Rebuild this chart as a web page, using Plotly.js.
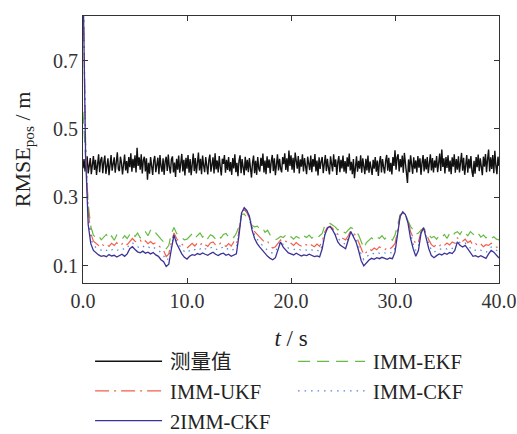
<!DOCTYPE html>
<html>
<head>
<meta charset="utf-8">
<script src="https://cdn.plot.ly/plotly-3.0.1.min.js"></script>
<style>
html,body{margin:0;padding:0;background:#fff;}
#chart{width:517px;height:434px;}
</style>
</head>
<body>
<div id="chart"></div>
<script>
// Series names
const seriesNames = ['测量值', 'IMM-EKF', 'IMM-UKF', 'IMM-CKF', '2IMM-CKF'];

// Measurement RMSE (sampled every 0.1 s, t = 0 ... 40)
const measured = [
.385,.412,.376,.404,.420,.370,.398,.415,.368,.407,
.421,.380,.410,.366,.401,.426,.374,.409,.418,.371,
.403,.422,.369,.396,.414,.365,.405,.424,.378,.399,
.417,.372,.408,.432,.383,.377,.419,.401,.367,.411,
.425,.379,.406,.371,.418,.388,.429,.375,.413,.386,
.423,.373,.445,.392,.417,.381,.426,.370,.409,.419,
.376,.414,.352,.401,.369,.418,.386,.366,.407,.421,
.374,.403,.416,.368,.424,.391,.375,.414,.366,.405,
.419,.377,.425,.389,.370,.411,.420,.373,.402,.360,
.413,.381,.422,.372,.406,.427,.376,.410,.364,.416,
.384,.424,.372,.412,.365,.404,.428,.377,.415,.370,
.406,.431,.379,.413,.368,.422,.393,.374,.418,.383,
.367,.409,.425,.375,.404,.417,.370,.429,.382,.408,
.373,.421,.389,.364,.413,.398,.424,.372,.410,.380,
.418,.376,.403,.366,.415,.385,.426,.374,.401,.362,
.407,.423,.371,.412,.388,.365,.419,.379,.410,.374,
.415,.380,.358,.401,.422,.371,.407,.366,.418,.384,
.376,.416,.392,.428,.373,.408,.368,.420,.386,.411,
.371,.405,.424,.377,.414,.365,.401,.426,.379,.413,
.384,.373,.418,.397,.429,.380,.414,.375,.437,.392,
.423,.381,.416,.372,.431,.395,.384,.421,.370,.411,
.390,.426,.376,.415,.387,.368,.419,.395,.380,.422,
.374,.412,.390,.427,.376,.408,.364,.417,.383,.405,
.418,.371,.402,.424,.377,.413,.386,.367,.420,.394,
.376,.426,.389,.411,.366,.403,.421,.374,.410,.385,
.422,.375,.406,.370,.417,.390,.428,.379,.404,.368,
.412,.356,.389,.420,.375,.407,.384,.423,.372,.414,
.391,.368,.413,.379,.422,.372,.405,.388,.366,.410,
.384,.418,.375,.408,.363,.402,.421,.373,.412,.389,
.370,.407,.424,.378,.416,.375,.401,.367,.418,.392,
.438,.381,.417,.426,.376,.412,.388,.422,.372,.430,
.392,.380,.342,.411,.374,.423,.389,.369,.417,.384,
.408,.373,.421,.387,.414,.366,.401,.424,.376,.413,
.382,.418,.371,.404,.426,.379,.415,.373,.408,.387,
.421,.374,.405,.428,.377,.440,.389,.414,.370,.418,
.386,.423,.375,.408,.368,.417,.390,.426,.372,.412,
.381,.420,.373,.405,.430,.378,.416,.366,.401,.424,
.372,.413,.385,.421,.376,.360,.407,.369,.418,.388,
.425,.377,.414,.384,.365,.419,.390,.427,.374,.411,
.440,.376,.417,.383,.424,.371,.436,.392,.368,.419,
.392
];

// Filter RMSE (sampled every 0.25 s, t = 0 ... 40)
const immEKF = [
.550,.420,.280,.215, .190,.182,.188,.176, .185,.192,.178,.187, .175,.190,.183,.178,
.188,.180,.192,.198, .186,.196,.182,.193, .200,.188,.205,.192, .196,.186,.178,.170,
.150,.160,.195,.212, .195,.188,.182,.176, .178,.186,.194,.181, .190,.196,.184,.193,
.180,.191,.187,.178, .188,.181,.192,.195, .184,.190,.183,.196, .215,.250,.252,.240,
.228,.218,.214,.216, .208,.212,.198,.204, .190,.182,.176,.180, .186,.183,.190,.180,
.185,.178,.186,.182, .176,.187,.183,.190, .181,.186,.180,.188, .195,.218,.225,.224,
.218,.214,.205,.210, .200,.196,.205,.212, .208,.202,.190,.172, .152,.168,.176,.182,
.175,.185,.180,.188, .178,.186,.182,.175, .190,.220,.250,.254, .246,.232,.215,.205,
.192,.196,.205,.210, .200,.190,.182,.186, .178,.189,.183,.192, .180,.195,.187,.196,
.200,.192,.205,.196, .188,.200,.192,.186, .195,.184,.190,.182, .188,.180,.185,.178,
.176
];
const immUKF = [
.950,.460,.260,.195, .172,.165,.160,.167, .158,.163,.157,.166, .160,.168,.159,.164,
.170,.162,.172,.180, .172,.168,.175,.166, .173,.165,.171,.164, .168,.160,.152,.145,
.127,.135,.170,.196, .180,.170,.164,.156, .152,.160,.166,.158, .167,.160,.169,.162,
.157,.167,.170,.161, .158,.168,.163,.157, .165,.158,.170,.162, .200,.258,.264,.256,
.240,.215,.200,.192, .183,.176,.168,.172, .158,.152,.156,.166, .176,.168,.172,.163,
.166,.160,.168,.162, .158,.165,.161,.167, .160,.156,.164,.157, .172,.200,.212,.216,
.210,.200,.192,.185, .180,.176,.188,.203, .196,.188,.170,.148, .132,.140,.150,.145,
.152,.147,.156,.150, .146,.154,.149,.156, .165,.203,.247,.256, .250,.233,.200,.182,
.163,.170,.200,.212, .192,.176,.162,.156, .163,.157,.166,.160, .167,.161,.170,.166,
.182,.176,.172,.178, .168,.173,.160,.165, .158,.164,.156,.162, .160,.166,.163,.155,
.154
];
const immCKF = [
.950,.440,.240,.180, .160,.153,.148,.146, .150,.145,.151,.147, .149,.144,.150,.152,
.147,.153,.163,.168, .160,.156,.152,.158, .153,.157,.151,.155, .149,.146,.138,.130,
.116,.122,.160,.192, .172,.160,.150,.142, .138,.145,.150,.147, .153,.149,.155,.150,
.147,.152,.156,.150, .146,.152,.155,.148, .151,.145,.149,.152, .195,.255,.266,.258,
.243,.212,.190,.178, .168,.160,.152,.146, .140,.137,.142,.158, .172,.162,.157,.152,
.150,.147,.152,.149, .145,.148,.146,.150, .147,.143,.146,.142, .160,.193,.210,.214,
.206,.195,.180,.172, .167,.163,.180,.200, .190,.178,.158,.133, .118,.126,.133,.138,
.135,.140,.137,.141, .138,.135,.139,.137, .152,.198,.245,.256, .249,.228,.190,.163,
.145,.157,.197,.210, .185,.162,.146,.140, .146,.150,.148,.152, .149,.154,.151,.158,
.175,.168,.164,.167, .160,.152,.144,.146, .142,.146,.141,.139, .148,.155,.152,.145,
.140
];
const imm2CKF = [
.950,.420,.220,.165, .145,.138,.132,.128, .130,.127,.133,.129, .131,.126,.130,.134,
.128,.135,.150,.156, .148,.141,.138,.143, .137,.140,.135,.139, .132,.128,.118,.112,
.098,.105,.150,.190, .165,.150,.135,.125, .120,.128,.133,.131, .136,.133,.138,.134,
.131,.136,.140,.134, .130,.135,.137,.131, .134,.128,.132,.135, .190,.255,.270,.262,
.245,.205,.180,.165, .155,.145,.135,.128, .122,.118,.124,.150, .170,.155,.145,.138,
.135,.132,.137,.133, .129,.132,.130,.134, .131,.127,.129,.126, .150,.190,.210,.215,
.205,.190,.170,.160, .155,.150,.175,.200, .185,.170,.145,.115, .100,.110,.117,.122,
.119,.124,.121,.125, .122,.119,.123,.121, .140,.195,.245,.258, .250,.225,.180,.150,
.128,.145,.195,.212, .180,.150,.130,.124, .130,.135,.132,.137, .134,.139,.136,.145,
.170,.160,.155,.160, .150,.140,.128,.130, .126,.130,.125,.122, .135,.145,.140,.130,
.123
];

const xTickVals = [0, 10, 20, 30, 40];
const xTickText = ['0.0', '10.0', '20.0', '30.0', '40.0'];
const yTickVals = [0.1, 0.3, 0.5, 0.7];
const yTickText = ['0.1', '0.3', '0.5', '0.7'];

// time grids
const tMeas = measured.map((_, i) => +(i * 0.1).toFixed(2));
const tFilt = imm2CKF.map((_, i) => i * 0.25);

const SERIF = 'Liberation Serif, Times New Roman, Noto Sans CJK SC, serif';

const traces = [
  {x: tMeas, y: measured, name: seriesNames[0], mode: 'lines',
   line: {color: '#111111', width: 1.4}},
  {x: tFilt, y: immEKF, name: seriesNames[1], mode: 'lines',
   line: {color: '#66bb44', width: 1.2, dash: '12px,7px'}},
  {x: tFilt, y: immUKF, name: seriesNames[2], mode: 'lines',
   line: {color: '#f0604a', width: 1.2, dash: '14px,5px,2px,5px'}},
  {x: tFilt, y: immCKF, name: seriesNames[3], mode: 'lines',
   line: {color: '#4d86e0', width: 1.2, dash: '1.5px,5px'}},
  {x: tFilt, y: imm2CKF, name: seriesNames[4], mode: 'lines',
   line: {color: '#3b3296', width: 1.3}}
];

const axisCommon = {
  showgrid: false, zeroline: false, showline: true, mirror: 'ticks',
  linecolor: '#333', linewidth: 1, ticks: 'inside', ticklen: 5, tickwidth: 1,
  tickcolor: '#333', tickfont: {family: SERIF, size: 20, color: '#333'}
};

const layout = {
  width: 517, height: 434,
  margin: {l: 83, r: 18, t: 16, b: 151, autoexpand: false},
  paper_bgcolor: '#fff', plot_bgcolor: '#fff',
  font: {family: SERIF, color: '#222'},
  showlegend: true,
  xaxis: Object.assign({}, axisCommon, {
    range: [0, 40], tickvals: xTickVals, ticktext: xTickText,
    title: {text: '<i>t</i> / s', font: {family: SERIF, size: 23, color: '#222'}, standoff: 18}
  }),
  yaxis: Object.assign({}, axisCommon, {
    range: [0.05, 0.83], tickvals: yTickVals, ticktext: yTickText,
    title: {text: 'RMSE<sub>pos</sub> / m', font: {family: SERIF, size: 22, color: '#222'}, standoff: 16}
  }),
  legend: {
    orientation: 'h', x: 0.017, xanchor: 'left', y: -0.2191, yanchor: 'top',
    font: {family: SERIF, size: 20.5, color: '#222'},
    itemwidth: 70, entrywidth: 118, entrywidthmode: 'pixels',
    bgcolor: 'rgba(0,0,0,0)', borderwidth: 0, traceorder: 'normal'
  }
};

Plotly.newPlot('chart', traces, layout, {staticPlot: true, displayModeBar: false}).then(function () {
  // stretch legend sample lines to the reference length
  document.querySelectorAll('.legend .legendlines path').forEach(function (p) {
    p.setAttribute('d', 'M5,0h67');
  });
});
</script>
</body>
</html>
